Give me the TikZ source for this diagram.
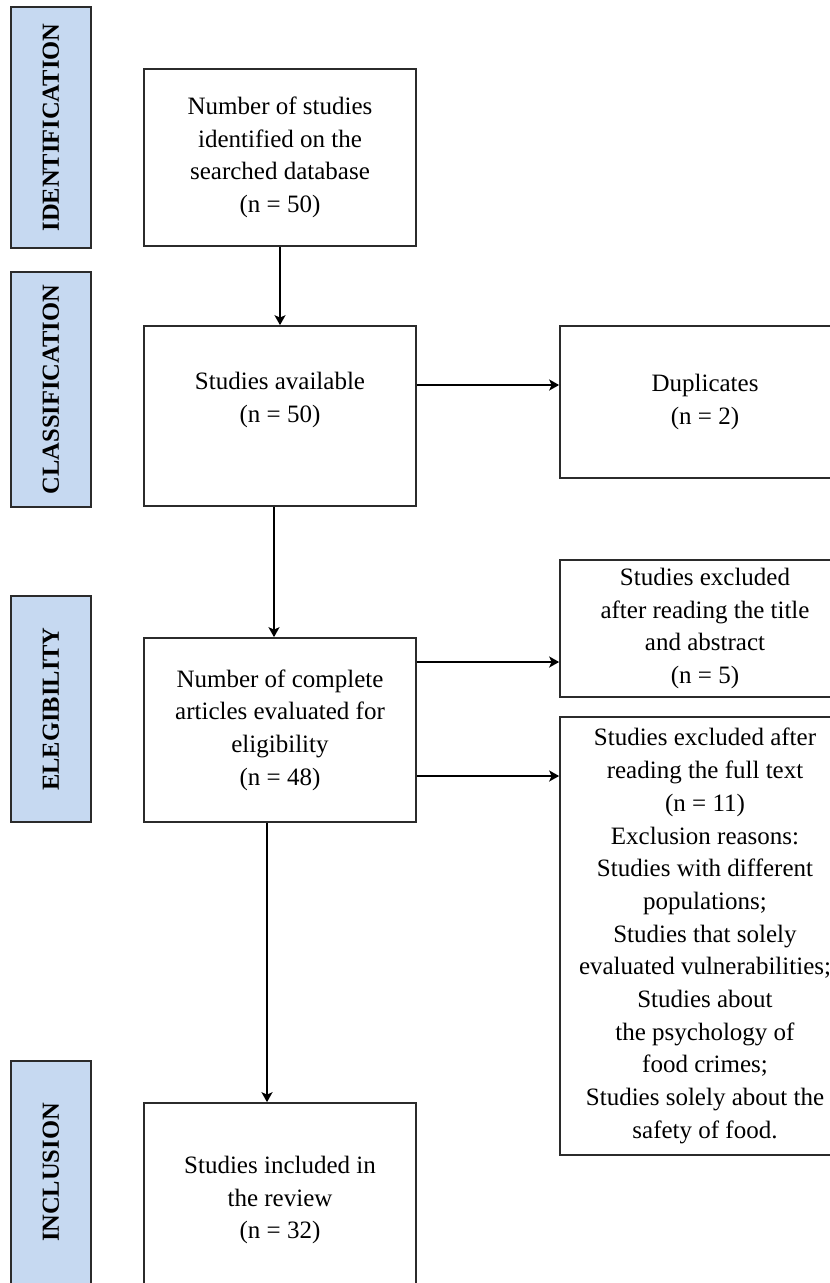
\documentclass[tikz,border=0pt]{standalone}
\usepackage{fontspec}
\setmainfont{Liberation Serif}
\usetikzlibrary{arrows.meta}
\definecolor{labfill}{HTML}{C6D9F1}
\definecolor{edge}{HTML}{2B2B2B}
\begin{document}
\begin{tikzpicture}[x=1pt,y=-1pt,
  box/.style={draw=edge, line width=1.7pt, fill=white, align=center, font=\fontsize{25}{32.7}\selectfont, inner sep=0pt},
  stage/.style={draw=edge, line width=1.4pt, fill=labfill, rotate=90, font=\bfseries\fontsize{24.5}{28}\selectfont, inner sep=0pt},
  arr/.style={line width=1.9pt, -{Stealth[length=10pt,width=11pt,inset=2.5pt]}}]
\useasboundingbox (0,0) rectangle (830,1283);
\clip (0,0) rectangle (830,1283);
% stage labels
\node[stage, minimum width=241pt, minimum height=80pt] (s1) at (51,127.5) {IDENTIFICATION};
\node[stage, minimum width=235pt, minimum height=80pt] (s2) at (51,389.5) {CLASSIFICATION};
\node[stage, minimum width=226pt, minimum height=80pt] (s3) at (51,709) {ELEGIBILITY};
\node[stage, minimum width=223pt, minimum height=80pt] (s4) at (51,1172.5) {INCLUSION};
% main boxes
\node[box, minimum width=272pt, minimum height=177pt] (b1) at (280,157.5) {Number of studies\\identified on the\\searched database\\(n = 50)};
\node[box, minimum width=272pt, minimum height=180pt,
  label={[yshift=16pt,align=center,font=\fontsize{25}{32.7}\selectfont]center:Studies available\\(n = 50)}] (b2) at (280,416) {};
\node[box, minimum width=272pt, minimum height=184pt] (b3) at (280,730) {Number of complete\\articles evaluated for\\eligibility\\(n = 48)};
\node[box, minimum width=272pt, minimum height=194pt] (b4) at (280,1200) {Studies included in\\the review\\(n = 32)};
% right boxes
\node[box, minimum width=290pt, minimum height=152pt] (dup) at (705,402) {Duplicates\\(n = 2)};
\node[box, minimum width=290pt, minimum height=137pt] (ex1) at (705,628.5) {Studies excluded\\after reading the title\\and abstract\\(n = 5)};
\node[box, minimum width=290pt, minimum height=438pt] (ex2) at (705,936) {Studies excluded after\\reading the full text\\(n = 11)\\Exclusion reasons:\\Studies with different\\populations;\\Studies that solely\\evaluated vulnerabilities;\\Studies about\\the psychology of\\food crimes;\\Studies solely about the\\safety of food.};
% connectors
\coordinate (x2) at (274,0);
\coordinate (x3) at (267,0);
\coordinate (y1) at (0,385);
\coordinate (y2) at (0,662);
\coordinate (y3) at (0,776);
\draw[arr] (b1) -- (b2);
\draw[arr] (b2.south -| x2) -- (b3.north -| x2);
\draw[arr] (b3.south -| x3) -- (b4.north -| x3);
\draw[arr] (b2.east |- y1) -- (dup.west |- y1);
\draw[arr] (b3.east |- y2) -- (ex1.west |- y2);
\draw[arr] (b3.east |- y3) -- (ex2.west |- y3);
\end{tikzpicture}
\end{document}
